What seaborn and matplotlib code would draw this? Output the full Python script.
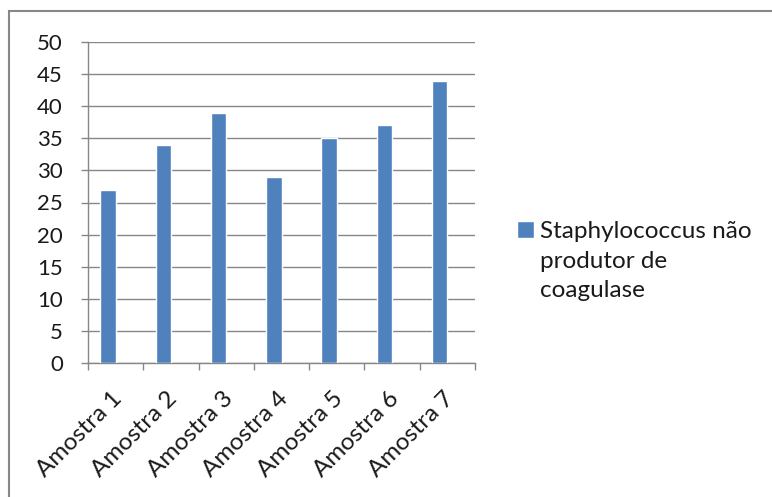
import pandas as pd
import matplotlib.pyplot as plt
import seaborn as sns
from matplotlib.patches import Rectangle
from matplotlib.ticker import FixedLocator, MultipleLocator

# Data
amostras = ["Amostra 1", "Amostra 2", "Amostra 3", "Amostra 4",
            "Amostra 5", "Amostra 6", "Amostra 7"]
valores = [27, 34, 39, 29, 35, 37, 44]
serie = "Staphylococcus não\nprodutor de\ncoagulase"

df = pd.DataFrame({"amostra": amostras, "valor": valores, "serie": serie})

sns.set_style("white")
plt.rcParams['font.family'] = ['Lato', 'DejaVu Sans']

grid_col = "#878787"
bar_col = "#4F81BD"
txt_col = "#1a1a1a"

fig = plt.figure(figsize=(7.72, 4.97), dpi=100)
ax = fig.add_axes([88 / 772, 1 - 363 / 497, 387 / 772, 321 / 497])

sns.barplot(data=df, x="amostra", y="valor", hue="serie", palette=[bar_col],
            width=0.28, saturation=1, ax=ax, zorder=3)

# category slots are shifted a bit to the right of the bars, as in the original
x0 = -0.362
n = len(amostras)
ax.set_xlim(x0, x0 + n)
ax.set_ylim(0, 50)
ax.yaxis.set_major_locator(MultipleLocator(5))
ax.set_xlabel("")
ax.set_ylabel("")

# horizontal gridlines
ax.grid(axis="y", color=grid_col, linewidth=1, zorder=0)
ax.set_axisbelow(True)

for s in ["top", "right"]:
    ax.spines[s].set_visible(False)
for s in ["left", "bottom"]:
    ax.spines[s].set_color(grid_col)
    ax.spines[s].set_linewidth(1)

ax.tick_params(axis="y", length=5, width=1, color=grid_col, labelsize=16,
               pad=13, left=True, labelcolor=txt_col)
# x ticks at category boundaries, labels near slot centres
ax.set_xticks([x0 + 0.42 + i for i in range(n)], amostras)
ax.xaxis.set_minor_locator(FixedLocator([x0 + i for i in range(n + 1)]))
ax.tick_params(axis="x", which="major", length=0, labelsize=17.5, pad=18,
               labelcolor=txt_col)
ax.tick_params(axis="x", which="minor", length=5, width=1, color=grid_col, bottom=True)
for lab in ax.get_xticklabels():
    lab.set_rotation(45)
    lab.set_ha("right")
    lab.set_rotation_mode("anchor")

fs = 17.5
ls = 1.5
leg = ax.legend(loc="center left", bbox_to_anchor=(507 / 772, 1 - 261 / 497),
                bbox_transform=fig.transFigure, frameon=False, fontsize=fs,
                handlelength=0.7, handleheight=0.7, handletextpad=0.25,
                borderaxespad=0, labelcolor=txt_col)
for t in leg.get_texts():
    t.set_linespacing(ls)
# put the square next to the first line of the label
h = leg.legend_handles[0]
h.set_y(h.get_y() + fs * 1.3)

# chart border
fig.patches.append(Rectangle((9 / 772, -0.1), 1.1, 1 - 11 / 497 + 0.1,
                             transform=fig.transFigure, fill=False,
                             edgecolor=grid_col, linewidth=1.5))

plt.savefig("out.png", dpi=100)
